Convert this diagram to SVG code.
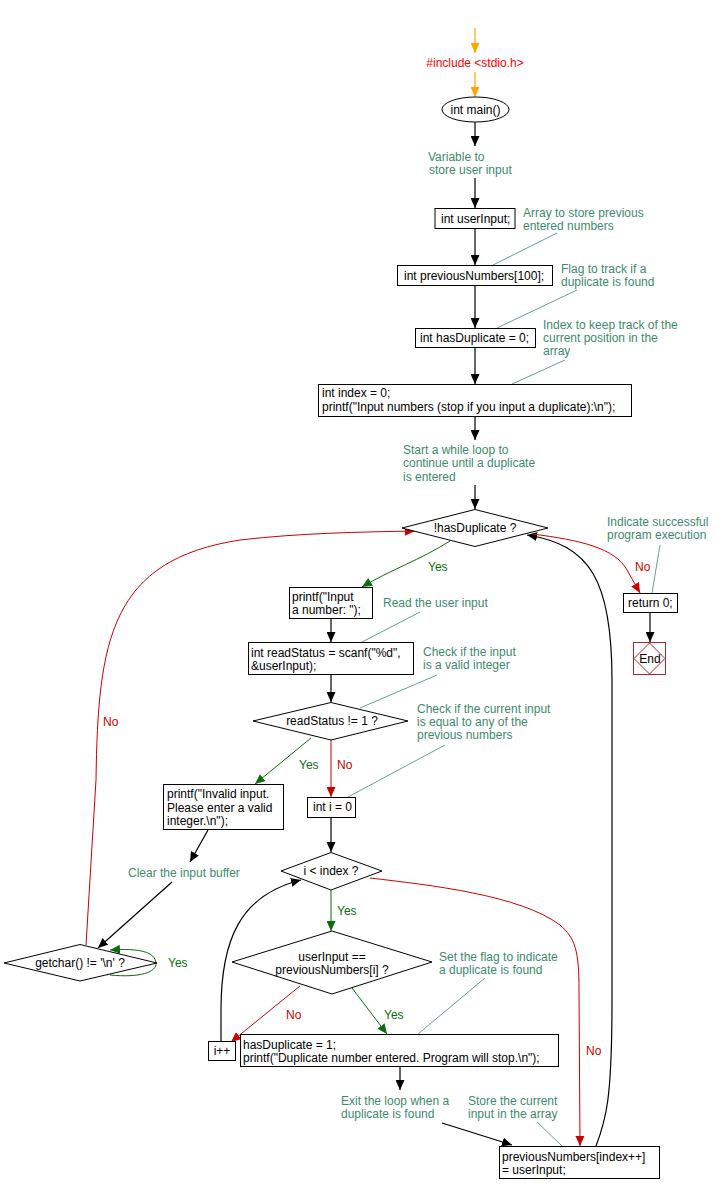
<svg xmlns="http://www.w3.org/2000/svg" width="725" height="1193" viewBox="0 0 725 1193">
<style>
text{font-family:"Liberation Sans",Arial,sans-serif;font-size:12px;fill:#000}
.c{fill:#3d8a6c}
.y{fill:#0a6e0a}
.n{fill:#cc0000}
.o{fill:#ff0000}
.box{fill:#fff;stroke:#000;stroke-width:1}
.k{fill:none;stroke:#000;stroke-width:1.2}
.g{fill:none;stroke:#0a6e0a;stroke-width:1}
.r{fill:none;stroke:#cc0000;stroke-width:1}
.or{fill:none;stroke:#ffa500;stroke-width:1.2}
.cl{fill:none;stroke:#3d8a6c;stroke-width:0.8}
.m{text-anchor:middle}
</style>
<defs>
<marker id="ak" markerUnits="userSpaceOnUse" markerWidth="10" markerHeight="9" refX="10" refY="4.5" orient="auto"><path d="M0,0 L10,4.5 L0,9 z" fill="#000"/></marker>
<marker id="ag" markerUnits="userSpaceOnUse" markerWidth="10" markerHeight="9" refX="10" refY="4.5" orient="auto"><path d="M0,0 L10,4.5 L0,9 z" fill="#0a6e0a"/></marker>
<marker id="ar" markerUnits="userSpaceOnUse" markerWidth="10" markerHeight="9" refX="10" refY="4.5" orient="auto"><path d="M0,0 L10,4.5 L0,9 z" fill="#cc0000"/></marker>
<marker id="ao" markerUnits="userSpaceOnUse" markerWidth="10" markerHeight="9" refX="10" refY="4.5" orient="auto"><path d="M0,0 L10,4.5 L0,9 z" fill="#ffa500"/></marker>
</defs>

<g id="connectors">
<path class="or" d="M475,28 L475,53" marker-end="url(#ao)"/>
<path class="or" d="M475,72 L475,97" marker-end="url(#ao)"/>
<path class="k" d="M475,122 L475,146" marker-end="url(#ak)"/>
<path class="k" d="M475,178 L475,208" marker-end="url(#ak)"/>
<path class="k" d="M475,229 L475,265" marker-end="url(#ak)"/>
<path class="k" d="M475,285 L475,328" marker-end="url(#ak)"/>
<path class="k" d="M475,347 L475,384" marker-end="url(#ak)"/>
<path class="k" d="M475,417 L475,440" marker-end="url(#ak)"/>
<path class="k" d="M475,485 L475,509" marker-end="url(#ak)"/>
<path class="g" d="M450,541 C420,560 390,570 362,587" marker-end="url(#ag)"/>
<path class="k" d="M331,618 L331,642" marker-end="url(#ak)"/>
<path class="k" d="M331,674 L331,702" marker-end="url(#ak)"/>
<path class="g" d="M311,738 L255,784" marker-end="url(#ag)"/>
<path class="r" d="M331,740 L331,797" marker-end="url(#ar)"/>
<path class="k" d="M208,830 L190,862" marker-end="url(#ak)"/>
<path class="k" d="M172,882 L98,948" marker-end="url(#ak)"/>
<path class="g" d="M110,975 C140,978 157,972 156,963 C155,952 140,948 110,950" marker-end="url(#ag)"/>
<path class="r" d="M86,945 L96,780 C98,640 110,560 240,540 C300,533 360,532 415,531" marker-end="url(#ar)"/>
<path class="k" d="M331,817 L331,852" marker-end="url(#ak)"/>
<path class="g" d="M331,890 L331,931" marker-end="url(#ag)"/>
<path class="r" d="M300,986 L231,1042" marker-end="url(#ar)"/>
<path class="g" d="M352,988 L387,1034" marker-end="url(#ag)"/>
<path class="k" d="M221,1041 L221,1010 C221,940 240,895 301,880" marker-end="url(#ak)"/>
<path class="k" d="M400,1067 L400,1090" marker-end="url(#ak)"/>
<path class="k" d="M442,1123 C470,1132 490,1138 512,1145" marker-end="url(#ak)"/>
<path class="r" d="M370,878 C430,885 520,895 560,925 C575,938 579,950 579,990 L580,1146" marker-end="url(#ar)"/>
<path class="k" d="M596,1146 C606,1120 612,1100 612,1000 L612,680 C612,580 590,545 527,535" marker-end="url(#ak)"/>
<path class="r" d="M532,534 C580,540 615,548 627,570 L640,593" marker-end="url(#ar)"/>
<path class="k" d="M650,612 L650,642" marker-end="url(#ak)"/>
<path class="cl" d="M557,233 L493,265"/>
<path class="cl" d="M577,290 L497,328"/>
<path class="cl" d="M565,360 L512,384"/>
<path class="cl" d="M420,612 L362,642"/>
<path class="cl" d="M437,675 L360,708"/>
<path class="cl" d="M445,745 L348,797"/>
<path class="cl" d="M660,545 L652,593"/>
<path class="cl" d="M485,978 L418,1034"/>
<path class="cl" d="M537,1122 L562,1146"/>
</g>

<g id="labels">
<text class="y" x="428" y="571">Yes</text>
<text class="n" x="635" y="571">No</text>
<text class="y" x="299" y="769">Yes</text>
<text class="n" x="337" y="769">No</text>
<text class="n" x="103" y="726">No</text>
<text class="y" x="168" y="967">Yes</text>
<text class="y" x="337" y="915">Yes</text>
<text class="n" x="286" y="1019">No</text>
<text class="y" x="384" y="1019">Yes</text>
<text class="n" x="586" y="1055">No</text>
</g>

<g id="include"><text class="o m" x="475" y="67">#include &lt;stdio.h&gt;</text></g>
<g id="main"><ellipse class="box" cx="475.5" cy="109.5" rx="33.5" ry="12.5"/><text class="m" x="475.5" y="113.5">int main()</text></g>
<g id="c1"><text class="c" x="428" y="161">Variable to</text><text class="c" x="429" y="174">store user input</text></g>
<g id="n1"><rect class="box" x="435" y="208.5" width="80" height="20"/><text x="441" y="223">int userInput;</text></g>
<g id="c2"><text class="c" x="523" y="217">Array to store previous</text><text class="c" x="523" y="230">entered numbers</text></g>
<g id="n2"><rect class="box" x="397.5" y="265.5" width="155" height="20"/><text x="404" y="279.5">int previousNumbers[100];</text></g>
<g id="c3"><text class="c" x="561" y="273">Flag to track if a</text><text class="c" x="561" y="286">duplicate is found</text></g>
<g id="n3"><rect class="box" x="415.5" y="328.5" width="120" height="19"/><text x="420" y="342">int hasDuplicate = 0;</text></g>
<g id="c4"><text class="c" x="543" y="329">Index to keep track of the</text><text class="c" x="543" y="342">current position in the</text><text class="c" x="543" y="355">array</text></g>
<g id="n4"><rect class="box" x="318.5" y="384.5" width="313" height="32"/><text x="322" y="397">int index = 0;</text><text x="322" y="411">printf("Input numbers (stop if you input a duplicate):\n");</text></g>
<g id="c5"><text class="c" x="403" y="454">Start a while loop to</text><text class="c" x="403" y="467">continue until a duplicate</text><text class="c" x="403" y="481">is entered</text></g>
<g id="d1"><path class="box" d="M402,528 L475,509.5 L548,528 L475,546.5 z"/><text class="m" x="475" y="532">!hasDuplicate ?</text></g>
<g id="c6"><text class="c" x="607" y="526">Indicate successful</text><text class="c" x="607" y="539">program execution</text></g>
<g id="ret"><rect class="box" x="623.5" y="593.5" width="54" height="19"/><text x="628" y="607">return 0;</text></g>
<g id="end"><rect x="633.5" y="642.5" width="32" height="32" fill="#fff" stroke="#a52a2a"/><path d="M649.5,643 L665,658.5 L649.5,674 L634,658.5 z" fill="none" stroke="#a52a2a"/><text class="m" x="650" y="662.5">End</text></g>
<g id="n5"><rect class="box" x="289.5" y="587.5" width="83" height="31"/><text x="292" y="601">printf("Input</text><text x="292" y="614">a number: ");</text></g>
<g id="c7"><text class="c" x="383" y="607">Read the user input</text></g>
<g id="n6"><rect class="box" x="248.5" y="642.5" width="165" height="32"/><text x="251" y="657">int readStatus = scanf("%d",</text><text x="251" y="670">&amp;userInput);</text></g>
<g id="c8"><text class="c" x="423" y="656">Check if the input</text><text class="c" x="423" y="669">is a valid integer</text></g>
<g id="d2"><path class="box" d="M253,721 L331,702.5 L408,721 L331,740 z"/><text class="m" x="332" y="725">readStatus != 1 ?</text></g>
<g id="c9"><text class="c" x="417" y="713">Check if the current input</text><text class="c" x="417" y="726">is equal to any of the</text><text class="c" x="417" y="739">previous numbers</text></g>
<g id="n7"><rect class="box" x="163.5" y="784.5" width="120" height="45"/><text x="167" y="798">printf("Invalid input.</text><text x="167" y="811.5">Please enter a valid</text><text x="167" y="825">integer.\n");</text></g>
<g id="n8"><rect class="box" x="307.5" y="797.5" width="48" height="20"/><text x="313" y="811">int i = 0</text></g>
<g id="c10"><text class="c" x="128" y="877">Clear the input buffer</text></g>
<g id="d3"><path class="box" d="M281,871 L331,852.5 L382,871 L331,890 z"/><text class="m" x="331" y="875">i &lt; index ?</text></g>
<g id="d4"><path class="box" d="M4,963 L80,944.5 L157,963 L80,981 z"/><text class="m" x="80" y="967">getchar() != '\n' ?</text></g>
<g id="d5"><path class="box" d="M232,962 L332,931 L432,962 L332,994 z"/><text class="m" x="332" y="961">userInput ==</text><text class="m" x="332" y="974">previousNumbers[i] ?</text></g>
<g id="c11"><text class="c" x="439" y="961">Set the flag to indicate</text><text class="c" x="439" y="974">a duplicate is found</text></g>
<g id="n9"><rect class="box" x="208.5" y="1041.5" width="27" height="19"/><text class="m" x="222" y="1055">i++</text></g>
<g id="n10"><rect class="box" x="240.5" y="1034.5" width="318" height="32"/><text x="243" y="1049">hasDuplicate = 1;</text><text x="243" y="1062">printf("Duplicate number entered. Program will stop.\n");</text></g>
<g id="c12"><text class="c" x="341" y="1105">Exit the loop when a</text><text class="c" x="341" y="1118">duplicate is found</text></g>
<g id="c13"><text class="c" x="468" y="1105">Store the current</text><text class="c" x="468" y="1118">input in the array</text></g>
<g id="n11"><rect class="box" x="499.5" y="1146.5" width="160" height="32"/><text x="502" y="1161">previousNumbers[index++]</text><text x="502" y="1174">= userInput;</text></g>
</svg>
